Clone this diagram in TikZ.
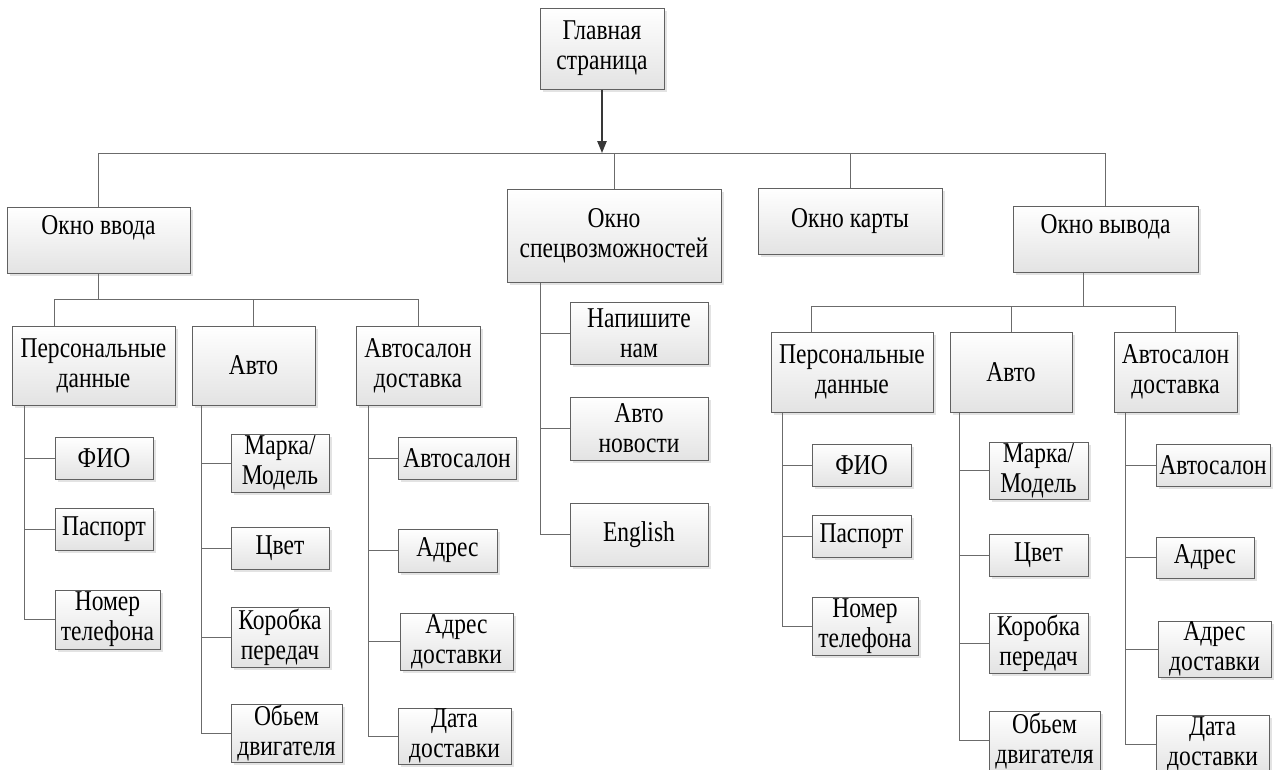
\documentclass[tikz,border=0pt]{standalone}
\usepackage{fontspec}
\setmainfont{Liberation Serif}[FakeStretch=0.82]
\usetikzlibrary{arrows.meta,shadows,calc}
\newcommand\boxfont{\fontsize{21.5}{22.5}\selectfont}
\newcommand\bx[6]{\node[box, minimum width={(#4-#2)*0.75pt}, minimum height={(#5-#3)*0.75pt}] (#1) at ({(#2+#4)/2},{(#3+#5)/2}) {#6};}
\tikzset{
  box/.style={draw=black!62, line width=0.75pt, top color=white, bottom color=black!11,
    drop shadow={shadow xshift=2pt, shadow yshift=-2pt, fill=black!22},
    align=center, inner sep=0pt, font=\boxfont},
  conn/.style={draw=black!58, line width=0.75pt},
  arr/.style={draw=black!78, line width=1.2pt, -{Triangle[length=9pt,width=7pt]}}
}
\begin{document}
\begin{tikzpicture}[x=0.75pt,y=-0.75pt]
\useasboundingbox (0,0) rectangle (1274,769);
% top
\bx{main}{540}{8}{664}{89}{Главная\\страница}
% level 1
\bx{vin}{7}{207}{190}{273}{Окно ввода\\~}
\bx{spec}{507}{189}{721}{282}{Окно\\спецвозможностей}
\bx{map}{758}{188}{942}{254}{Окно карты}
\bx{vout}{1013}{206}{1198}{272}{Окно вывода\\~}
% left subtree
\bx{lpd}{12}{326}{175}{405}{Персональные\\данные}
\bx{lav}{192}{326}{315}{405}{Авто}
\bx{las}{356}{326}{480}{405}{Автосалон\\доставка}
\bx{lfio}{55}{437}{153}{479}{ФИО}
\bx{lpas}{55}{508}{153}{550}{Паспорт}
\bx{lnom}{55}{590}{160}{649}{Номер\\телефона}
\bx{lmar}{231}{434}{329}{492}{Марка/\\Модель}
\bx{lcv}{231}{527}{329}{569}{Цвет}
\bx{lkor}{231}{607}{329}{667}{Коробка\\передач}
\bx{lob}{231}{704}{342}{762}{Обьем\\двигателя}
\bx{lsal}{398}{437}{516}{479}{Автосалон}
\bx{ladr}{398}{529}{497}{572}{Адрес}
\bx{lad2}{400}{613}{513}{670}{Адрес\\доставки}
\bx{ldat}{398}{708}{511}{764}{Дата\\доставки}
% middle subtree
\bx{nap}{570}{302}{708}{364}{Напишите\\нам}
\bx{news}{570}{397}{708}{460}{Авто\\новости}
\bx{eng}{570}{503}{708}{566}{English}
% right subtree
\bx{rpd}{771}{332}{933}{412}{Персональные\\данные}
\bx{rav}{950}{332}{1072}{412}{Авто}
\bx{ras}{1114}{332}{1237}{412}{Автосалон\\доставка}
\bx{rfio}{812}{444}{911}{486}{ФИО}
\bx{rpas}{812}{515}{911}{557}{Паспорт}
\bx{rnom}{812}{597}{918}{655}{Номер\\телефона}
\bx{rmar}{989}{442}{1088}{499}{Марка/\\Модель}
\bx{rcv}{989}{534}{1088}{576}{Цвет}
\bx{rkor}{989}{613}{1088}{673}{Коробка\\передач}
\bx{rob}{989}{711}{1100}{770}{Обьем\\двигателя}
\bx{rsal}{1156}{444}{1270}{486}{Автосалон}
\bx{radr}{1156}{537}{1254}{578}{Адрес}
\bx{rad2}{1158}{621}{1271}{677}{Адрес\\доставки}
\bx{rdat}{1156}{715}{1269}{773}{Дата\\доставки}
% coordinates
\coordinate (bus) at (602,153);
\coordinate (lb) at (0,299);
\coordinate (rb) at (0,306);
\coordinate (lpdtop) at ($(lpd.north west)+(43,0)$);
\coordinate (rpdtop) at ($(rpd.north west)+(41,0)$);
\coordinate (voutb) at ($(vout.south)+(-22,0)$);
\coordinate (tlpd) at ($(lpd.south west)+(13,0)$);
\coordinate (tlav) at ($(lav.south west)+(10,0)$);
\coordinate (tlas) at ($(las.south west)+(13,0)$);
\coordinate (tspec) at ($(spec.south west)+(34,0)$);
\coordinate (trpd) at ($(rpd.south west)+(12,0)$);
\coordinate (trav) at ($(rav.south west)+(10,0)$);
\coordinate (tras) at ($(ras.south west)+(12,0)$);
% connectors
\draw[arr] (main.south) -- (main.south |- bus);
\draw[conn] (vin.north) |- (vout.north |- bus) -- (vout.north);
\draw[conn] (spec.north) -- (spec.north |- bus);
\draw[conn] (map.north) -- (map.north |- bus);
% left
\draw[conn] (vin.south) -- (vin.south |- lb);
\draw[conn] (lpdtop) |- (las.north |- lb) -- (las.north);
\draw[conn] (lav.north) -- (lav.north |- lb);
\draw[conn] (tlpd) |- (lnom.west);
\foreach \c in {lfio,lpas} \draw[conn] (\c.west) -- (\c.west -| tlpd);
\draw[conn] (tlav) |- (lob.west);
\foreach \c in {lmar,lcv,lkor} \draw[conn] (\c.west) -- (\c.west -| tlav);
\draw[conn] (tlas) |- (ldat.west);
\foreach \c in {lsal,ladr,lad2} \draw[conn] (\c.west) -- (\c.west -| tlas);
% middle
\draw[conn] (tspec) |- (eng.west);
\foreach \c in {nap,news} \draw[conn] (\c.west) -- (\c.west -| tspec);
% right
\draw[conn] (voutb) -- (voutb |- rb);
\draw[conn] (rpdtop) |- (ras.north |- rb) -- (ras.north);
\draw[conn] (rav.north) -- (rav.north |- rb);
\draw[conn] (trpd) |- (rnom.west);
\foreach \c in {rfio,rpas} \draw[conn] (\c.west) -- (\c.west -| trpd);
\draw[conn] (trav) |- (rob.west);
\foreach \c in {rmar,rcv,rkor} \draw[conn] (\c.west) -- (\c.west -| trav);
\draw[conn] (tras) |- (rdat.west);
\foreach \c in {rsal,radr,rad2} \draw[conn] (\c.west) -- (\c.west -| tras);
\end{tikzpicture}
\end{document}
